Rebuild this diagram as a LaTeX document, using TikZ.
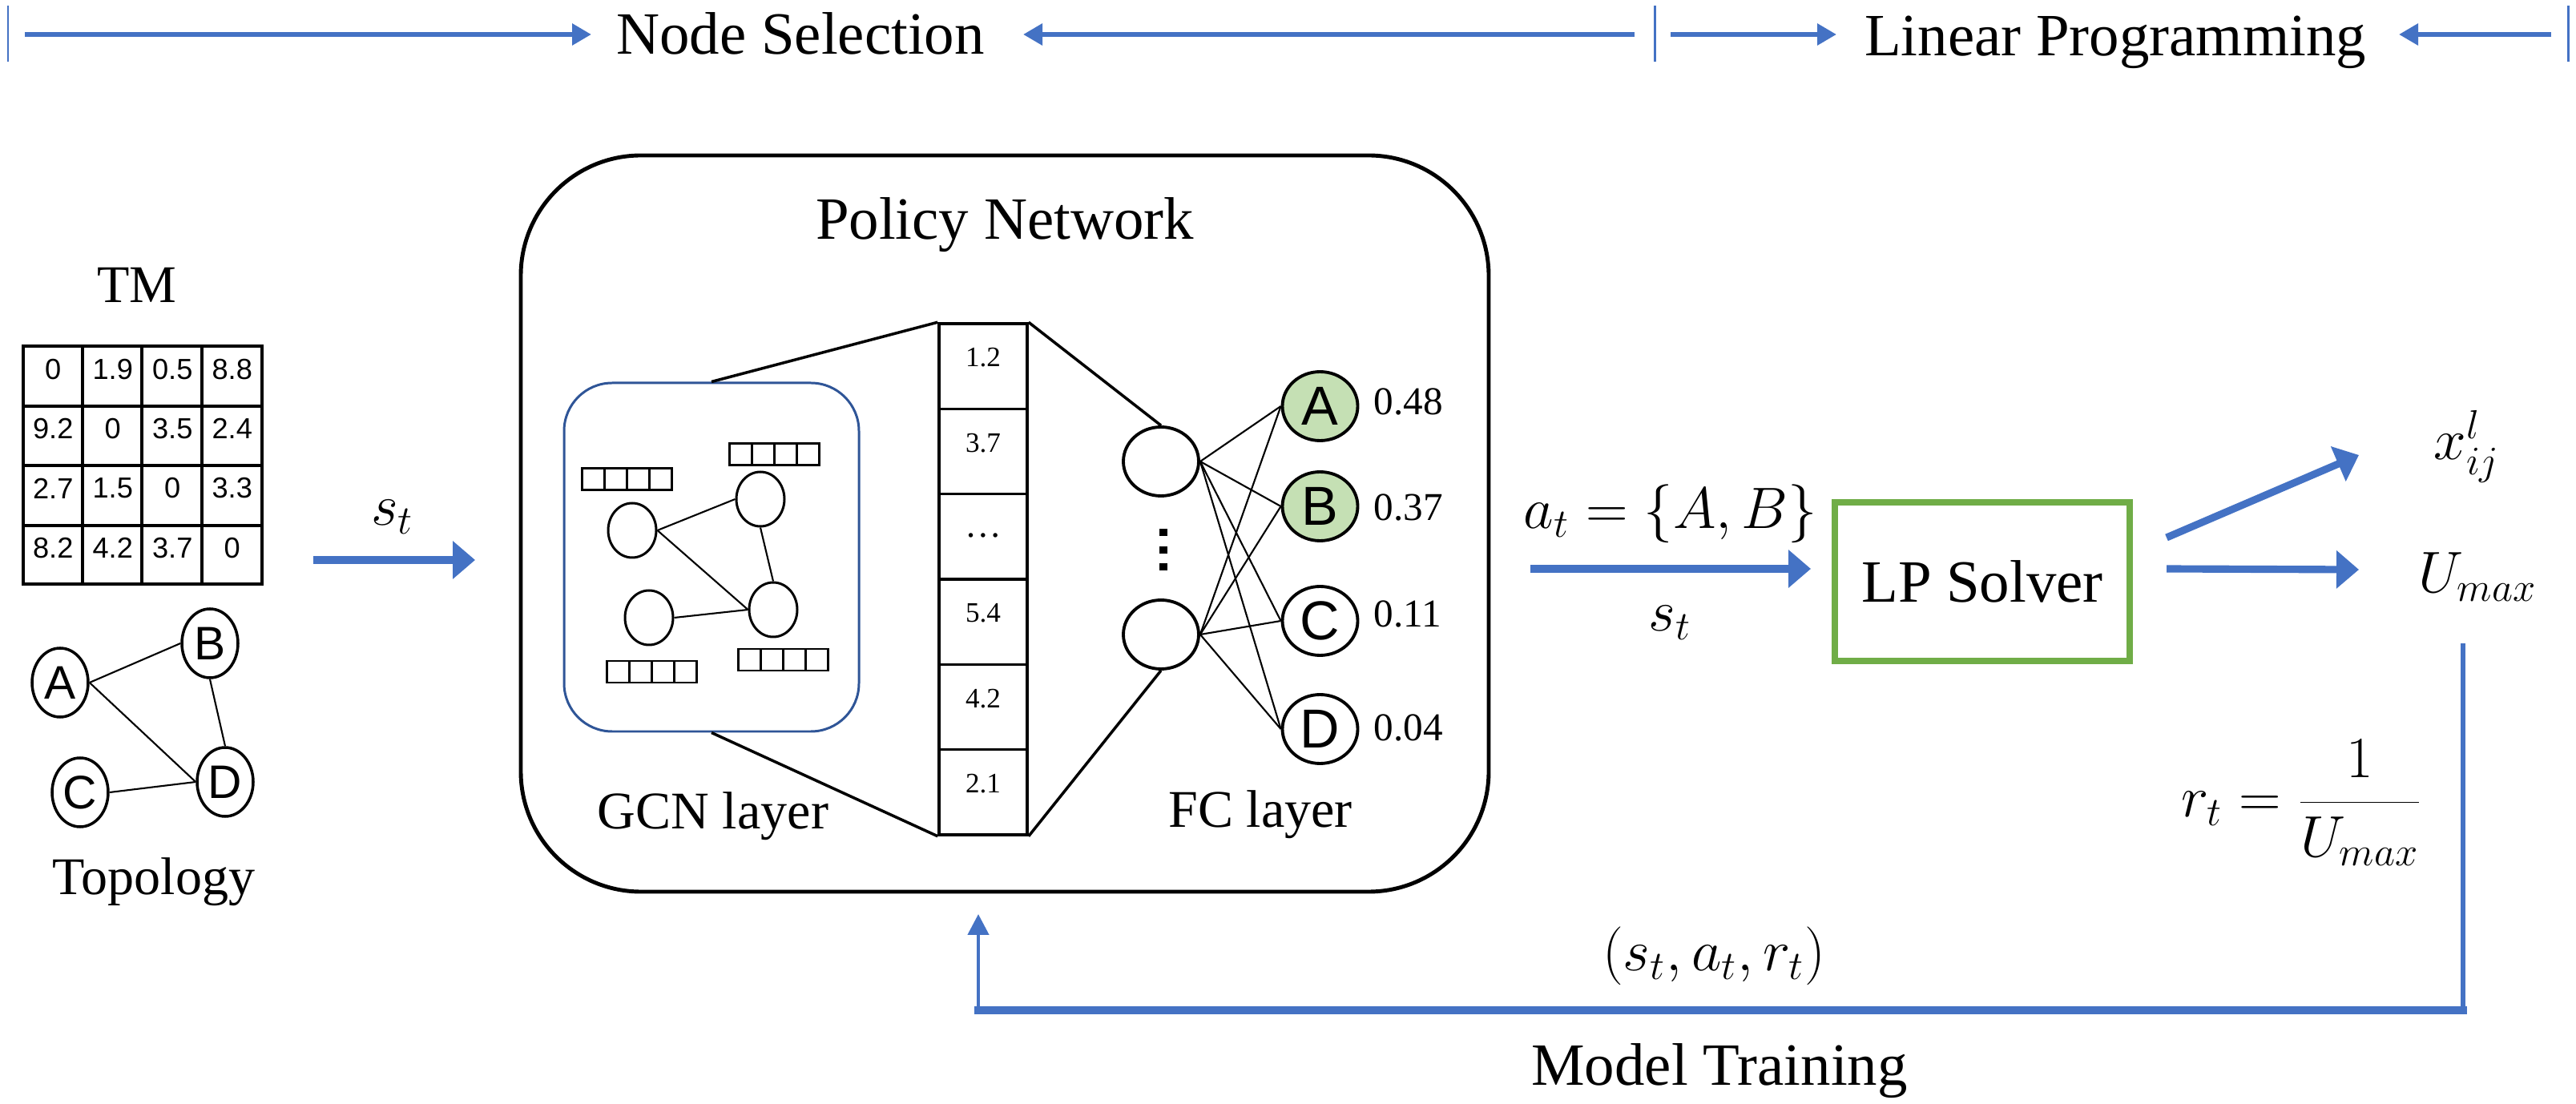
\documentclass[tikz,border=0pt]{standalone}
\usepackage{fontspec}
\setmainfont{Liberation Serif}
\newfontfamily\arial{Liberation Sans}
\usetikzlibrary{arrows.meta,shapes.geometric}
\definecolor{bleu}{HTML}{4472C4}
\definecolor{bleufonce}{HTML}{2F5597}
\definecolor{vert}{HTML}{70AD47}
\definecolor{vertclair}{HTML}{C5E0B4}
\begin{document}
\begin{tikzpicture}[
	titre/.style={font=\fontsize{21.3}{25}\selectfont},
	legende/.style={font=\fontsize{18.8}{22}\selectfont},
	maths/.style={font=\fontsize{20.5}{24}\selectfont},
	grandmaths/.style={font=\fontsize{22}{26}\selectfont},
	fleche/.style={bleu,line width=2.6pt,-{Triangle[length=0.28cm,width=0.46cm]}},
	petitefleche/.style={bleu,line width=1.9pt,-{Triangle[length=0.24cm,width=0.26cm]}},
	barre/.style={bleu,line width=0.85pt},
	sommet/.style={draw,ellipse,line width=1pt,inner sep=0pt,minimum width=0.7cm,minimum height=0.86cm,font=\arial\fontsize{16.7}{20}\selectfont},
	neurone/.style={draw,ellipse,line width=1.1pt,inner sep=0pt,minimum width=0.94cm,minimum height=0.86cm},
	sortie/.style={neurone,font=\arial\fontsize{19.5}{23}\selectfont},
	noeud/.style={draw,ellipse,line width=0.85pt,minimum width=0.6cm,minimum height=0.68cm},
	case/.style={font=\arial\fontsize{10.3}{12}\selectfont,inner sep=0pt},
	valeur/.style={font=\fontsize{10}{12}\selectfont,inner sep=0pt,anchor=base},
	proba/.style={font=\fontsize{14}{16}\selectfont,anchor=base west,inner sep=0pt},
	lien/.style={line width=0.6pt}
]
	\useasboundingbox (0,0) rectangle (32.15,-13.78);
%	Bandeau du haut :
	\foreach \x in {0.10,20.65,32.05} \draw[barre] (\x,-0.07) -- (\x,-0.77);
	\coordinate (h1) at (0.31,-0.43);
	\coordinate (h2) at (7.38,-0.43);
	\coordinate (h3) at (20.40,-0.43);
	\coordinate (h4) at (12.77,-0.43);
	\coordinate (h5) at (20.85,-0.43);
	\coordinate (h6) at (22.92,-0.43);
	\coordinate (h7) at (31.84,-0.43);
	\coordinate (h8) at (29.94,-0.43);
	\node[titre,anchor=base] (selection) at (9.99,-0.68) {Node Selection};
	\node[titre,anchor=base] (lineaire) at (26.40,-0.70) {Linear Programming};
	\draw[petitefleche] (h1) -- (h2);
	\draw[petitefleche] (h3) -- (h4);
	\draw[petitefleche] (h5) -- (h6);
	\draw[petitefleche] (h7) -- (h8);
%	Matrice de trafic :
	\node[legende,anchor=base] (tm) at (1.71,-3.78) {TM};
	\draw[line width=1pt] (0.29,-4.32) rectangle (3.27,-7.29);
	\foreach \x in {1.03,1.77,2.52} \draw[line width=1pt] (\x,-4.32) -- (\x,-7.29);
	\foreach \y in {-5.07,-5.81,-6.56} \draw[line width=1pt] (0.29,\y) -- (3.27,\y);
	\foreach [count=\i] \valeurs in {{0,1.9,0.5,8.8},{9.2,0,3.5,2.4},{2.7,1.5,0,3.3},{8.2,4.2,3.7,0}}
		\foreach [count=\j] \v in \valeurs
			\node[case] (m\i\j) at ({-0.0825+0.745*\j},{-3.8675-0.7425*\i}) {\v};
%	Topologie :
	\node[sommet] (A) at (0.75,-8.52) {A};
	\node[sommet] (B) at (2.62,-8.03) {B};
	\node[sommet] (C) at (1.00,-9.89) {C};
	\node[sommet] (D) at (2.81,-9.76) {D};
	\draw[lien] (A.east) -- (B.west);
	\draw[lien] (A.east) -- (D.west);
	\draw[lien] (B.south) -- (D.north);
	\draw[lien] (C.east) -- (D.west);
	\node[legende,anchor=base] (topo) at (1.92,-11.16) {Topology};
%	Etat vers le reseau :
	\coordinate (e1) at (3.91,-6.99);
	\coordinate (e2) at (5.93,-6.99);
	\draw[fleche] (e1) -- (e2);
	\node[maths,anchor=base] (st) at (4.90,-6.56) {$s_t$};
%	Reseau de politique :
	\node[draw,rounded corners=1.5cm,line width=1.4pt,minimum width=12.08cm,minimum height=9.19cm] (politique) at (12.54,-6.535) {};
	\node[titre,anchor=base] (titrepol) at (12.54,-2.99) {Policy Network};
	\node[draw=bleufonce,line width=0.85pt,rounded corners=0.6cm,minimum width=3.68cm,minimum height=4.35cm] (gcn) at (8.88,-6.955) {};
	\foreach \x/\y in {7.26/-5.85,9.10/-5.54,7.57/-8.25,9.21/-8.10} {
		\draw[line width=0.85pt] (\x,\y) rectangle ++(1.12,-0.27);
		\foreach \k in {1,2,3} \draw[line width=0.85pt] (\x+0.28*\k,\y) -- ++(0,-0.27);
	}
	\node[noeud] (n1) at (7.89,-6.62) {};
	\node[noeud] (n2) at (9.49,-6.23) {};
	\node[noeud] (n3) at (8.10,-7.71) {};
	\node[noeud] (n4) at (9.65,-7.61) {};
	\draw[lien] (n1.east) -- (n2.west);
	\draw[lien] (n1.east) -- (n4.west);
	\draw[lien] (n2.south) -- (n4.north);
	\draw[lien] (n3.east) -- (n4.west);
	\node[legende,anchor=base] (lgcn) at (8.90,-10.35) {GCN layer};
%	Vecteur :
	\node[draw,line width=1pt,inner sep=0pt,minimum width=1.1cm,minimum height=6.38cm] (vecteur) at (12.27,-7.23) {};
	\foreach \y in {-5.103,-6.167,-7.23,-8.293,-9.357} \draw[line width=1pt] (11.72,\y) -- (12.82,\y);
	\foreach [count=\i] \v in {1.2,3.7,{\fontsize{13}{15}\selectfont\textellipsis},5.4,4.2,2.1}
		\node[valeur] (v\i) at (12.27,{-3.517-1.063*\i}) {\v};
	\draw[line width=1pt] (gcn.north) -- (vecteur.north west);
	\draw[line width=1pt] (gcn.south) -- (vecteur.south west);
%	Couche FC :
	\node[neurone] (fc1) at (14.49,-5.76) {};
	\node[neurone] (fc2) at (14.49,-7.92) {};
	\draw[line width=1pt] (vecteur.north east) -- (fc1.north);
	\draw[line width=1pt] (vecteur.south east) -- (fc2.south);
	\foreach \y in {6.65,6.87,7.08} \fill (14.47,-\y+0.045) rectangle (14.57,-\y-0.045);
	\node[sortie,fill=vertclair] (sA) at (16.475,-5.07) {A};
	\node[sortie,fill=vertclair] (sB) at (16.475,-6.32) {B};
	\node[sortie] (sC) at (16.475,-7.75) {C};
	\node[sortie] (sD) at (16.475,-9.10) {D};
	\foreach \s in {sA,sB,sC,sD} {
		\draw[lien] (fc1.east) -- (\s.west);
		\draw[lien] (fc2.east) -- (\s.west);
	}
	\node[proba] (pA) at (17.14,-5.18) {0.48};
	\node[proba] (pB) at (17.14,-6.50) {0.37};
	\node[proba] (pC) at (17.14,-7.83) {0.11};
	\node[proba] (pD) at (17.14,-9.25) {0.04};
	\node[legende,anchor=base] (lfc) at (15.73,-10.33) {FC layer};
%	Solveur LP :
	\coordinate (e3) at (19.10,-7.10);
	\coordinate (e4) at (22.60,-7.10);
	\draw[fleche] (e3) -- (e4);
	\node[maths,anchor=base] (at) at (20.85,-6.60) {$a_t=\{A,B\}$};
	\node[maths,anchor=base] (st2) at (20.84,-7.88) {$s_t$};
	\node[draw=vert,line width=2.3pt,minimum width=3.68cm,minimum height=1.98cm,titre] (lp) at (24.74,-7.26) {LP Solver};
	\coordinate (s1) at (27.04,-6.71);
	\coordinate (s2) at (29.44,-5.68);
	\coordinate (s3) at (27.04,-7.10);
	\coordinate (s4) at (29.44,-7.11);
	\draw[fleche] (s1) -- (s2);
	\draw[fleche] (s3) -- (s4);
	\node[grandmaths,anchor=base west] (xijl) at (30.25,-5.74) {$x_{ij}^{l}$};
	\node[grandmaths,anchor=base west] (umax) at (30.06,-7.40) {$U_{max}$};
%	Boucle d'entrainement :
	\coordinate (r1) at (30.74,-8.03);
	\coordinate (r2) at (30.74,-12.61);
	\coordinate (r3) at (12.21,-12.61);
	\coordinate (r4) at (12.21,-11.41);
	\draw[bleu,line width=1.7pt] (r1) -- (r2);
	\draw[bleu,line width=2.6pt,line cap=rect] (r3) -- (r2);
	\draw[bleu,line width=1.3pt,-{Triangle[length=0.26cm,width=0.26cm]}] (r3) -- (r4);
	\node[maths,anchor=base west] (rt) at (27.10,-10.20) {$r_t=\displaystyle\frac{1}{U_{max}}$};
	\node[maths,anchor=base] (triplet) at (21.39,-12.12) {$(s_t,a_t,r_t)$};
	\node[titre,anchor=base] (mt) at (21.46,-13.55) {Model Training};
\end{tikzpicture}
\end{document}
